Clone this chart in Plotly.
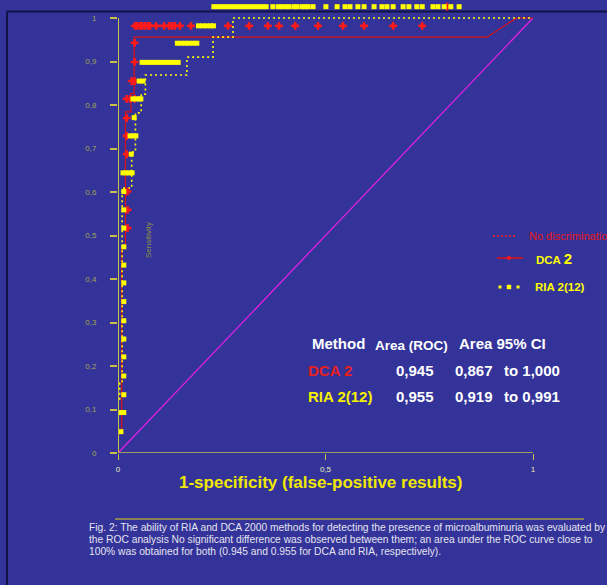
import plotly.graph_objects as go

# ---------------- data ----------------
# chance diagonal
diag_x = [0, 1]
diag_y = [0, 1]

# DCA 2000 ROC step curve (1-specificity, sensitivity)
dca_line_x = [0, 0, 0.009, 0.009, 0.018, 0.018, 0.031, 0.031, 0.039, 0.039, 0.889, 0.960, 1.0]
dca_line_y = [0, 0.046, 0.046, 0.470, 0.470, 0.784, 0.784, 0.826, 0.826, 0.956, 0.956, 1.0, 1.0]

# DCA 2000 individual points
dca_pt_x = [0.040, 0.040, 0.040, 0.033, 0.040, 0.021, 0.029, 0.021,
            0.021, 0.021, 0.023, 0.023, 0.023,
            0.041, 0.046, 0.053, 0.058, 0.065, 0.072, 0.077, 0.092, 0.111, 0.123,
            0.130, 0.137, 0.149, 0.176, 0.265, 0.316, 0.361, 0.388, 0.427, 0.482,
            0.542, 0.593, 0.663, 0.733, 0.793]
dca_pt_y = [0.943, 0.899, 0.855, 0.855, 0.814, 0.814, 0.814, 0.770,
            0.729, 0.687, 0.601, 0.559, 0.517,
            0.982, 0.982, 0.982, 0.982, 0.982, 0.982, 0.982, 0.982, 0.982, 0.982,
            0.982, 0.982, 0.982, 0.982, 0.982, 0.982, 0.982, 0.982, 0.982, 0.982,
            0.982, 0.982, 0.982, 0.982, 1.026]

# RIA ROC step curve
ria_line_x = [0, 0, 0.004, 0.004, 0.010, 0.010, 0.033, 0.033, 0.042, 0.042, 0.056, 0.056,
              0.066, 0.066, 0.166, 0.166, 0.229, 0.229, 0.277, 0.277, 1.0]
ria_line_y = [0, 0.120, 0.120, 0.160, 0.160, 0.609, 0.609, 0.692, 0.692, 0.782, 0.782, 0.825,
              0.825, 0.869, 0.869, 0.910, 0.910, 0.956, 0.956, 1.0, 1.0]

# RIA individual points
ria_pt_x = [0.007, 0.007, 0.014,
            0.014, 0.014, 0.014, 0.014, 0.014, 0.014, 0.014, 0.014, 0.014, 0.014, 0.014, 0.014,
            0.012, 0.019, 0.027, 0.034,
            0.032,
            0.029, 0.036, 0.043,
            0.039,
            0.036, 0.043, 0.051, 0.055,
            0.051, 0.060,
            0.058, 0.067, 0.077, 0.087, 0.096, 0.106, 0.116, 0.125, 0.135, 0.145,
            0.143, 0.152, 0.162, 0.171, 0.181, 0.190,
            0.194, 0.204, 0.213, 0.223, 0.230,
            0.231, 0.241, 0.251, 0.260, 0.270, 0.280, 0.289, 0.299, 0.308, 0.318, 0.328,
            0.337, 0.347, 0.357, 0.373, 0.386, 0.395, 0.405, 0.412, 0.424, 0.431, 0.443,
            0.451, 0.458, 0.470, 0.501, 0.528, 0.547, 0.559, 0.578, 0.593, 0.617, 0.636,
            0.648, 0.663, 0.687, 0.701, 0.720, 0.733, 0.759, 0.771, 0.786, 0.802, 0.822]
ria_pt_y = ([0.049, 0.093, 0.093,
             0.134, 0.177, 0.221, 0.262, 0.304, 0.348, 0.391, 0.432, 0.474, 0.517, 0.559, 0.601]
            + [0.644] * 4 + [0.687] + [0.729] * 3 + [0.771] + [0.814] * 4 + [0.855] * 2
            + [0.898] * 10 + [0.942] * 6 + [0.982] * 5 + [1.026] * 44)

y_ticks = [0, 0.1, 0.2, 0.3, 0.4, 0.5, 0.6, 0.7, 0.8, 0.9, 1]
y_tick_text = ["0", "0,1", "0,2", "0,3", "0,4", "0,5", "0,6", "0,7", "0,8", "0,9", "1"]
x_ticks = [0, 0.5, 1]
x_tick_text = ["0", "0,5", "1"]

table_header = ["Method", "Area (ROC)", "Area 95% CI"]
methods = ["DCA 2", "RIA 2(12)"]
auc = ["0,945", "0,955"]
ci_low = ["0,867", "0,919"]
ci_high = ["to 1,000", "to 0,991"]

caption = [
    "Fig. 2: The ability of RIA and DCA 2000 methods for detecting the presence of microalbuminuria was evaluated by",
    "the ROC analysis No significant difference was observed between them; an area under the ROC curve close to",
    "100% was obtained for both (0.945 and 0.955 for DCA and RIA, respectively).",
]

# ---------------- layout geometry ----------------
W, H = 607, 585
ML, MR, MT, MB = 118, 74, 3, 132
PW, PH = W - ML - MR, H - MT - MB
Y_MAX = PH / 435.0

BG = "#333399"
YEL = "#ffff00"
RED = "#ff1a1a"
AXC = "#c8c048"
FONT = "Liberation Sans, Arial, sans-serif"


def px(x):
    return (x - ML) / PW


def py(y):
    return (H - MB - y) / PH


fig = go.Figure()

fig.add_trace(go.Scatter(x=diag_x, y=diag_y, mode="lines",
                         line=dict(color="#e020e0", width=1.3),
                         cliponaxis=False, hoverinfo="skip"))
fig.add_trace(go.Scatter(x=dca_line_x, y=dca_line_y, mode="lines",
                         line=dict(color="#e01010", width=1.2),
                         cliponaxis=False, hoverinfo="skip"))
fig.add_trace(go.Scatter(x=ria_line_x, y=ria_line_y, mode="lines",
                         line=dict(color=YEL, width=1.6, dash="2px,3px"),
                         cliponaxis=False, hoverinfo="skip"))
fig.add_trace(go.Scatter(x=dca_pt_x, y=dca_pt_y, mode="markers",
                         marker=dict(symbol="cross", size=6.5, color=RED, line=dict(width=0)),
                         cliponaxis=False, hoverinfo="skip"))
fig.add_trace(go.Scatter(x=ria_pt_x, y=ria_pt_y, mode="markers",
                         marker=dict(symbol="square", size=5, color=YEL, line=dict(width=0)),
                         cliponaxis=False, hoverinfo="skip"))

shapes = []
# axis lines
shapes.append(dict(type="line", xref="x", yref="y", x0=0, x1=0, y0=0, y1=1,
                   line=dict(color=AXC, width=2)))
shapes.append(dict(type="line", xref="x", yref="y", x0=0, x1=1, y0=0, y1=0,
                   line=dict(color=AXC, width=1.5)))
# slide frame
shapes.append(dict(type="line", xref="paper", yref="paper", x0=px(7), x1=px(W), y0=py(11.5), y1=py(11.5),
                   line=dict(color="#12124a", width=2), layer="below"))
shapes.append(dict(type="line", xref="paper", yref="paper", x0=px(7), x1=px(7), y0=py(11.5), y1=py(H),
                   line=dict(color="#12124a", width=2), layer="below"))
# rule above caption
shapes.append(dict(type="line", xref="paper", yref="paper", x0=px(115), x1=px(584), y0=py(519), y1=py(519),
                   line=dict(color="#e0d020", width=1)))
# legend glyphs
shapes.append(dict(type="line", xref="paper", yref="paper", x0=px(493), x1=px(517), y0=py(236), y1=py(236),
                   line=dict(color=RED, width=1.5, dash="2px,2px")))
shapes.append(dict(type="line", xref="paper", yref="paper", x0=px(497), x1=px(523), y0=py(258), y1=py(258),
                   line=dict(color="#e01010", width=1.5)))
shapes.append(dict(type="circle", xref="paper", yref="paper", x0=px(507), x1=px(511), y0=py(256), y1=py(260),
                   fillcolor=RED, line=dict(width=0)))
for cx, s in [(500, 1.5), (509, 2.2), (518, 1.5)]:
    shapes.append(dict(type="rect", xref="paper", yref="paper", x0=px(cx - s), x1=px(cx + s),
                       y0=py(287 + s), y1=py(287 - s), fillcolor=YEL, line=dict(width=0)))

ann = []


def text(x, y, t, size, color, bold=False, anchor="left", angle=0):
    ann.append(dict(xref="paper", yref="paper", x=px(x), y=py(y), text=("<b>%s</b>" % t) if bold else t,
                    showarrow=False, xanchor=anchor, yanchor="middle", textangle=angle,
                    font=dict(family=FONT, size=size, color=color)))


# axis titles
text(320, 482, "1-specificity (false-positive results)", 17, "#f0e800", bold=True, anchor="center")
text(149, 240, "Sensitivity", 8, "#909048", anchor="center", angle=-90)

# legend text
text(527, 236, "No discrimination", 11, "#e81818")
text(534, 258, "DCA <span style='font-size:15px'>2</span>", 11.5, YEL, bold=True)
text(533, 287, "RIA 2(12)", 11.5, YEL, bold=True)

# results table
text(310, 343, table_header[0], 15, "white", bold=True)
text(373, 345, table_header[1], 13.5, "white", bold=True)
text(457, 343, table_header[2], 15, "white", bold=True)
row_y = [370, 396]
row_col = ["#e82020", "#f4f000"]
for i in range(2):
    text(306, row_y[i], methods[i], 15, row_col[i], bold=True)
    text(393.5, row_y[i], auc[i], 15, "white", bold=True)
    text(452.5, row_y[i], ci_low[i], 15, "white", bold=True)
    text(501.5, row_y[i], ci_high[i], 15, "white", bold=True)

# caption
for i, line in enumerate(caption):
    text(87, 527 + 12.4 * i, line, 10.25, "#e4e4f0")

fig.update_layout(
    width=W, height=H,
    margin=dict(l=ML, r=MR, t=MT, b=MB, pad=0),
    paper_bgcolor=BG, plot_bgcolor=BG,
    showlegend=False,
    shapes=shapes, annotations=ann,
    xaxis=dict(range=[0, 1], showgrid=False, zeroline=False, showline=False,
               tickmode="array", tickvals=x_ticks, ticktext=x_tick_text,
               ticks="outside", ticklen=6, tickwidth=1, tickcolor=AXC,
               tickfont=dict(family=FONT, size=8, color="#f0f0b8"), ticklabelstandoff=2),
    yaxis=dict(range=[0, Y_MAX], showgrid=False, zeroline=False, showline=False,
               tickmode="array", tickvals=y_ticks, ticktext=y_tick_text,
               ticks="outside", ticklen=7, tickwidth=1.5, tickcolor=AXC,
               tickfont=dict(family=FONT, size=8, color="#a4a450"), ticklabelstandoff=12),
)

fig.write_html("out.html")
